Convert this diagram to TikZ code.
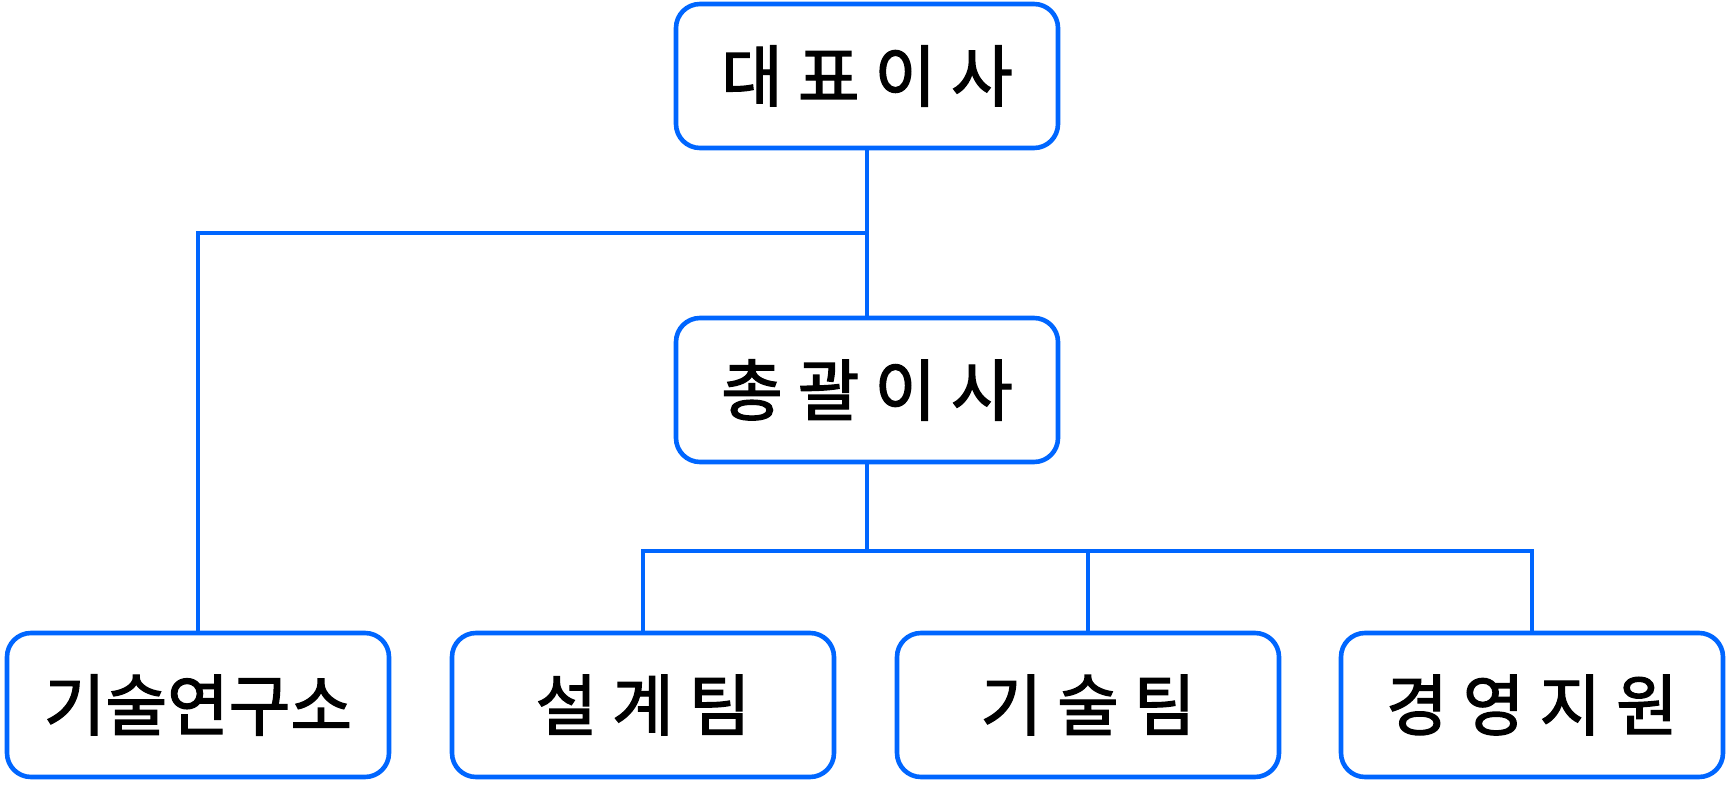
\documentclass[tikz,border=0pt]{standalone}
\usepackage{fontspec}
\setmainfont{Noto Sans CJK KR}[BoldFont={Noto Sans CJK KR}, BoldFeatures={FakeBold=2}]
\definecolor{orgblue}{HTML}{0066FF}
\tikzset{
  unit/.style={draw=orgblue, line width=2.3pt, rounded corners=12pt, fill=white,
    minimum width=191pt, minimum height=72pt, font=\fontsize{33.5}{40}\selectfont\bfseries},
  link/.style={draw=orgblue, line width=2.3pt}
}
\begin{document}
\begin{tikzpicture}[x=0.5pt, y=-0.5pt]
      \useasboundingbox (0, 0) rectangle (1728, 786);
      \node [unit] (ceo) at (867, 76) {대 표 이 사};
      \node [unit] (gm) at (867, 390) {총 괄 이 사};
      \node [unit] (lab) at (198, 705) {기술연구소};
      \node [unit] (design) at (643, 705) {설 계 팀};
      \node [unit] (tech) at (1088, 705) {기 술 팀};
      \node [unit] (admin) at (1532, 705) {경 영 지 원};
      \coordinate (up) at (867, 233);
      \coordinate (down) at (867, 551);
      \draw [link] (ceo) -- (gm);
      \draw [link] (up) -| (lab);
      \draw [link] (gm) -- (down);
      \draw [link] (down) -| (design);
      \draw [link] (down) -| (tech);
      \draw [link] (down) -| (admin);
    \end{tikzpicture}
\end{document}
